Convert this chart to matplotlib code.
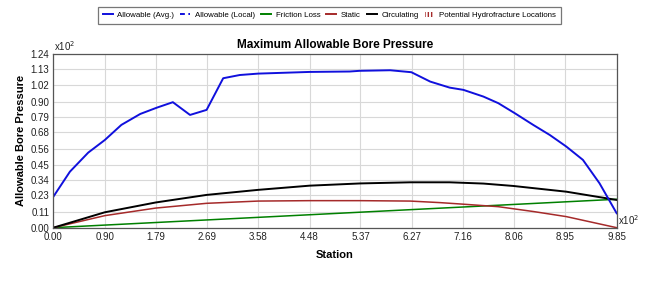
import matplotlib
matplotlib.use("Agg")
import matplotlib.pyplot as plt
from matplotlib.lines import Line2D
from matplotlib.patches import Patch
import numpy as np

plt.rcParams['font.family'] = ['Liberation Sans', 'DejaVu Sans']

# Data (x in hundreds of station units, y in hundreds)
avg_x = [0.0, 0.29, 0.61, 0.90, 1.19, 1.52, 1.81, 2.09, 2.39, 2.68, 2.97, 3.26, 3.58,
         4.48, 5.18, 5.36, 5.89, 6.26, 6.59, 6.93, 7.17, 7.52, 7.78, 8.07, 8.39, 8.68,
         8.97, 9.26, 9.55, 9.85]
avg_y = [0.221, 0.40, 0.536, 0.626, 0.734, 0.812, 0.857, 0.896, 0.805, 0.841, 1.067, 1.09, 1.10,
         1.112, 1.115, 1.12, 1.124, 1.11, 1.043, 1.0, 0.984, 0.936, 0.889, 0.817, 0.734, 0.662,
         0.579, 0.484, 0.317, 0.103]

circ_x = [0.0, 0.90, 1.79, 2.68, 3.58, 4.48, 5.37, 6.24, 6.93, 7.52, 8.04, 8.97, 9.85]
circ_y = [0.0, 0.11, 0.18, 0.234, 0.27, 0.30, 0.316, 0.324, 0.324, 0.315, 0.298, 0.257, 0.198]

static_x = [0.0, 0.90, 1.79, 2.68, 3.58, 4.48, 5.36, 6.24, 6.76, 7.16, 7.78, 8.40, 8.97, 9.85]
static_y = [0.0, 0.086, 0.14, 0.174, 0.19, 0.193, 0.193, 0.19, 0.179, 0.168, 0.15, 0.115, 0.079, 0.0]

fric_x = [0.0, 9.85]
fric_y = [0.0, 0.203]

xticks = [0.00, 0.90, 1.79, 2.69, 3.58, 4.48, 5.37, 6.27, 7.16, 8.06, 8.95, 9.85]
yticks = [0.00, 0.11, 0.23, 0.34, 0.45, 0.56, 0.68, 0.79, 0.90, 1.02, 1.13, 1.24]

fig = plt.figure(figsize=(6.7, 2.82), dpi=100)
ax = fig.add_axes([0.0796, 0.1926, 0.8408, 0.6159])

blue = '#1010dd'
green = '#008000'
red = '#a52a2a'

ax.plot(fric_x, fric_y, color=green, lw=1.1)
ax.plot(static_x, static_y, color=red, lw=1.1)
ax.plot(circ_x, circ_y, color='black', lw=1.4)
ax.plot(avg_x, avg_y, color=blue, lw=1.4)

ax.set_xlim(0, 9.85)
ax.set_ylim(0, 1.24)
ax.set_xticks(xticks)
ax.set_yticks(yticks)
ax.set_xticklabels([f"{v:.2f}" for v in xticks])
ax.set_yticklabels([f"{v:.2f}" for v in yticks])
ax.tick_params(labelsize=7, length=0, pad=3, colors='#222222')
ax.grid(True, color='#d8d8d8', lw=0.8)
ax.set_axisbelow(True)
for s in ax.spines.values():
    s.set_color('#555555')
    s.set_linewidth(0.9)

ax.set_title('Maximum Allowable Bore Pressure', fontsize=8.5, fontweight='bold', pad=4)
ax.set_xlabel('Station', fontsize=8, fontweight='bold', labelpad=6)
ax.set_ylabel('Allowable Bore Pressure', fontsize=8, fontweight='bold', labelpad=3)

ax.text(0.002, 1.005, 'x10$^{2}$', transform=ax.transAxes, fontsize=7, ha='left', va='bottom', color='#222222')
ax.text(1.002, 0.005, 'x10$^{2}$', transform=ax.transAxes, fontsize=7, ha='left', va='bottom', color='#222222')

handles = [
    Line2D([], [], color=blue, lw=1.4),
    Line2D([], [], color=blue, lw=1.4, dashes=(2.5, 1.8)),
    Line2D([], [], color=green, lw=1.4),
    Line2D([], [], color=red, lw=1.4),
    Line2D([], [], color='black', lw=1.4),
    Patch(facecolor='white', edgecolor=red, hatch='|||||', lw=0),
]
labels = ['Allowable (Avg.)', 'Allowable (Local)', 'Friction Loss', 'Static', 'Circulating',
          'Potential Hydrofracture Locations']
leg = fig.legend(handles, labels, loc='upper center', bbox_to_anchor=(0.4917, 0.99), ncol=6,
                 fontsize=5.7, frameon=True, fancybox=False, edgecolor='#555555',
                 handlelength=1.25, handletextpad=0.6, columnspacing=0.75, borderpad=0.6)
leg.get_frame().set_linewidth(0.9)

fig.savefig('out.png', dpi=100)
